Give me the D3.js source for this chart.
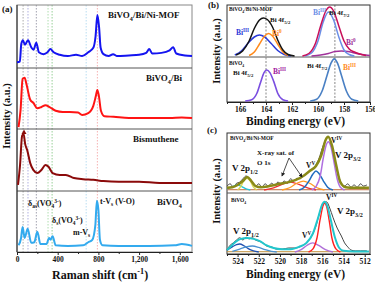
<!DOCTYPE html>
<html>
<head>
<style>
  body { margin: 0; background: #fff; }
  svg { width: 375px; height: 283px; display: block; }
  text { font-family: "Liberation Serif", "DejaVu Serif", serif; }
  .frame { fill: none; stroke: #333; stroke-width: 1px; }
  .divider { stroke: #555; stroke-width: 1px; }
  .axis text { font-family: "Liberation Serif", serif; font-weight: bold; font-size: 7.5px; fill: #111; }
  .axis path, .axis line { stroke: #222; stroke-width: 1px; }
  .marker { stroke-width: 0.8px; stroke-dasharray: 1.5 1.5; }
  .guide { stroke: #888; stroke-width: 1px; stroke-dasharray: 2 1.5; }
</style>
<script src="https://cdn.jsdelivr.net/npm/d3@7"></script>
</head>
<body>
<svg></svg>
<script>
// ---- panel (a): Raman spectra, [shift cm-1, intensity a.u.]
var ramanTicks = [0, 400, 800, 1200, 1600];
var ramanMinor = [200, 600, 1000, 1400];
var ramanLines = [60, 108, 190, 305, 345, 680, 790];
var ramanLineColors = ["#999", "#9a9ad8", "#8a8a9a", "#9bd49b", "#7cc47c", "#a8d4ee", "#f4a0a0"];

var ramanMof = [[0,9],[28,10],[42,38],[58,44],[78,37],[108,44],[140,33],[162,29],[190,40],[215,25],[260,22],[300,25],[328,30],[360,25],[420,21],[500,19],[580,21],[640,19],[700,25],[750,32],[772,50],[790,84],[806,66],[822,32],[850,22],[900,19],[945,22],[980,19],[1100,20],[1200,21],[1270,24],[1300,30],[1330,23],[1420,24],[1500,28],[1535,33],[1565,23],[1650,20],[1720,19]];
var ramanBi = [[15,3],[35,31],[55,82],[75,84],[95,72],[130,48],[160,43],[200,34],[240,36],[280,39],[320,36],[380,30],[450,28],[520,28],[600,27],[640,23],[700,26],[750,38],[775,54],[790,64],[805,54],[825,30],[860,21],[950,20],[1100,18],[1300,18],[1500,18],[1620,19],[1720,18]];
var ramanBismuthene = [[10,10],[30,42],[50,89],[65,92],[80,76],[100,66],[130,45],[160,34],[200,29],[240,34],[280,42],[310,39],[350,29],[420,26],[480,26],[560,21],[650,19],[750,18],[850,16],[1000,15],[1200,15],[1400,13],[1720,13]];
var ramanBivo4 = [[15,11],[40,23],[55,41],[75,23],[105,38],[140,15],[170,16],[200,33],[230,13],[290,13],[315,23],[330,20],[350,26],[380,11],[500,10],[650,11],[700,16],[740,20],[770,44],[785,84],[800,69],[815,20],[840,11],[1000,10],[1300,10],[1550,11],[1620,13],[1720,10]];

// ---- panel (b): Bi 4f XPS, [binding energy eV, intensity]
var biTicks = [166, 164, 162, 160, 158, 156];
var biMinor = [167, 165, 163, 161, 159, 157];
var biGuides = [164.0, 158.7];
var biMofEnvL = [[166.3,2],[165.8,10],[165.3,30],[164.9,55],[164.5,72],[164.2,76],[163.9,73],[163.5,58],[163.1,32],[162.7,12],[162.3,3],[161.8,0]];
var biMofIIIL = [[166.4,2],[165.9,10],[165.4,25],[164.9,38],[164.5,42],[164.1,38],[163.6,25],[163.1,11],[162.6,3],[162.1,0]];
var biMof0L = [[165.3,1],[164.9,8],[164.5,24],[164.1,40],[163.8,45],[163.5,40],[163.1,24],[162.7,8],[162.3,1]];
var biMofEnvR = [[161.2,0],[160.7,5],[160.2,25],[159.8,60],[159.4,90],[159.1,98],[158.8,90],[158.4,60],[158.0,30],[157.6,14],[157.2,8],[156.8,4],[156.3,1]];
var biMofIIIR = [[161.0,0],[160.5,6],[160.0,30],[159.6,68],[159.2,88],[158.8,72],[158.4,38],[158.0,12],[157.6,3],[157.2,0]];
var biMof0R = [[160.5,0],[159.8,2],[159.2,5],[158.7,9],[158.2,10],[157.7,9],[157.2,6],[156.6,3],[156.0,1]];
var biBvoL = [[165.6,0],[165.1,3],[164.7,18],[164.4,45],[164.15,66],[163.95,72],[163.7,66],[163.4,45],[163.1,18],[162.7,3],[162.3,0]];
var biBvoR = [[160.6,0],[160.1,4],[159.7,22],[159.3,60],[159.0,88],[158.75,98],[158.5,88],[158.2,60],[157.8,22],[157.4,4],[156.9,0]];

// ---- panel (c): V 2p XPS, [binding energy eV, intensity]
var vTicks = [524, 522, 520, 518, 516, 514, 512];
var vMinor = [525, 523, 521, 519, 517, 515, 513];
var vMofRaw = [[525,7],[524.7,11],[524.4,5],[524.1,12],[523.8,14],[523.5,20],[523.2,25],[522.9,20],[522.6,12],[522.3,7],[522.0,11],[521.7,5],[521.4,11],[521.1,7],[520.8,12],[520.5,9],[520.2,14],[519.9,11],[519.6,16],[519.3,12],[519.0,20],[518.7,16],[518.4,21],[518.1,20],[517.8,25],[517.5,29],[517.2,34],[516.9,39],[516.6,45],[516.3,57],[516.0,75],[515.7,89],[515.4,95],[515.1,79],[514.8,50],[514.5,27],[514.2,12],[513.9,7],[513.6,11],[513.3,5],[513.0,9],[512.7,5],[512.4,11],[512.1,7],[511.8,9]];
var vMofEnv = [[525,4],[524.5,5],[524,9],[523.5,16],[523.1,23],[522.7,16],[522.3,7],[521.8,5],[521,7],[520,11],[519.2,14],[518.5,18],[517.8,25],[517.2,34],[516.6,43],[516.1,62],[515.7,89],[515.45,95],[515.1,80],[514.7,45],[514.3,14],[513.8,5],[513,4],[512,4],[511.6,4]];
var vMofIV = [[517.0,0],[516.6,6],[516.2,25],[515.9,58],[515.6,82],[515.45,86],[515.2,78],[514.9,50],[514.6,20],[514.3,5],[513.9,0]];
var vMofV = [[518.2,0],[517.7,5],[517.3,15],[516.9,28],[516.6,34],[516.3,29],[515.9,16],[515.5,5],[515.0,0]];
var vMofSatA = [[521.5,0],[520.6,4],[519.8,10],[519.0,14],[518.2,10],[517.4,4],[516.6,0]];
var vMofSatB = [[519.8,0],[519.1,4],[518.4,12],[517.8,16],[517.2,12],[516.5,4],[515.8,0]];
var vMofP12a = [[525,2],[524.5,6],[524.0,9],[523.6,6],[523.2,2],[522.8,0]];
var vMofP12b = [[524.0,0],[523.7,6],[523.4,17],[523.1,21],[522.8,16],[522.5,5],[522.2,0]];
var vBvoRaw = [[525,3.5],[524.7,12],[524.4,16],[524.1,21],[523.8,25],[523.5,21],[523.2,26],[522.9,23],[522.6,25],[522.3,21],[522.0,19],[521.6,16],[521.2,10],[520.8,9],[520.3,5],[519.8,5],[519.2,7],[518.6,7],[518.0,10],[517.5,16],[517.0,28],[516.6,46],[516.2,72],[515.9,86],[515.6,88],[515.3,77],[515.0,61],[514.6,42],[514.2,28],[513.9,16],[513.6,9],[513.3,3.5],[512.9,2],[512.4,2],[511.8,2]];
var vBvoEnv = [[525,3.5],[524.6,10.5],[524.2,17.5],[523.7,23],[523.1,24.5],[522.5,23],[521.9,19],[521.3,12],[520.6,7],[519.8,5],[519.0,5],[518.2,9],[517.5,16],[516.9,32],[516.4,60],[516.0,84],[515.8,88],[515.5,79],[515.2,56],[514.8,25],[514.4,7],[514.0,2],[513,1],[512,1],[511.6,1]];
var vBvoIV = [[517.3,0],[516.9,5],[516.5,25],[516.2,58],[515.95,80],[515.8,86],[515.6,80],[515.35,55],[515.1,25],[514.7,5],[514.3,0]];
var vBvoV = [[518.6,0],[518.0,4],[517.5,11],[516.9,16],[516.3,11],[515.7,4],[515.0,0]];
var vBvoP12a = [[525.0,3],[524.5,9],[524.1,13],[523.8,14],[523.4,11],[523.0,6],[522.5,2],[522.0,0]];
var vBvoP12b = [[524.5,1],[523.8,5],[523.2,9],[522.6,10.5],[522.0,8],[521.4,4],[520.8,1],[520.3,0]];
var vBase = [[525,0.5],[511.6,0.5]];

var svg = d3.select("svg");

function rich(x, y, parts, size, color, weight)
{
    var t = svg.append("text")
        .attr("x", x).attr("y", y)
        .attr("font-size", size + "px")
        .attr("font-weight", weight || "bold")
        .attr("fill", color || "#111");
    var shift = 0;
    parts.forEach(function(p)
    {
        var target = p[1] == "sub" ? size * 0.3 : (p[1] == "sup" ? -size * 0.42 : 0);
        t.append("tspan")
            .attr("dy", target - shift)
            .attr("font-size", (p[1] ? size * 0.68 : size) + "px")
            .text(p[0]);
        shift = target;
    });
    return t;
}

function drawCurve(data, x, y, color, width)
{
    var line = d3.line()
        .x(function(d) { return x(d[0]); })
        .y(function(d) { return y(d[1]); })
        .curve(d3.curveMonotoneX);
    svg.append("path")
        .attr("d", line(data))
        .attr("fill", "none")
        .attr("stroke", color)
        .attr("stroke-width", width)
        .attr("stroke-linejoin", "round");
}

function drawAxis(x, yPos, major, minor)
{
    svg.append("g").attr("class", "axis")
        .attr("transform", "translate(0," + yPos + ")")
        .call(d3.axisBottom(x).tickValues(minor).tickFormat("").tickSize(2).tickSizeOuter(0));
    svg.append("g").attr("class", "axis")
        .attr("transform", "translate(0," + yPos + ")")
        .call(d3.axisBottom(x).tickValues(major).tickSize(3).tickSizeOuter(0).tickPadding(1.5));
}

function yTitle(cx, cy, size)
{
    svg.append("text")
        .attr("transform", "translate(" + cx + "," + cy + ") rotate(-90)")
        .attr("text-anchor", "middle")
        .attr("font-size", size + "px")
        .attr("font-weight", "bold")
        .attr("fill", "#111")
        .text("Intensity (a.u.)");
}

// ================= panel (a)
var xa = d3.scaleLinear().domain([0, 1720]).range([17, 192]);
var aRows = [[5, 68], [68, 129], [129, 191], [191, 252]];
var ya = aRows.map(function(r) { return d3.scaleLinear().domain([0, 100]).range([r[1], r[0]]); });

ramanLines.forEach(function(v, i)
{
    svg.append("line").attr("class", "marker")
        .attr("x1", xa(v)).attr("x2", xa(v)).attr("y1", 5).attr("y2", 252)
        .attr("stroke", ramanLineColors[i]);
});

svg.append("rect").attr("x", 17).attr("y", 5).attr("width", 175).attr("height", 247)
    .attr("fill", "none").attr("stroke", "#888");
[68, 129, 191].forEach(function(d)
{
    svg.append("line").attr("class", "divider").attr("x1", 17).attr("x2", 192).attr("y1", d).attr("y2", d);
});
svg.append("line").attr("x1", 17).attr("x2", 17).attr("y1", 5).attr("y2", 252).attr("stroke", "#222");

drawCurve(ramanMof, xa, ya[0], "#1414f0", 2);
drawCurve(ramanBi, xa, ya[1], "#ff1414", 2);
drawCurve(ramanBismuthene, xa, ya[2], "#8b0a0a", 2);
drawCurve(ramanBivo4, xa, ya[3], "#33aaee", 2);
drawAxis(xa, 252, ramanTicks, ramanMinor);

svg.append("path").attr("d", "M24,129.5 L21.5,134 L26.5,134 Z").attr("fill", "#8b0a0a");

rich(2, 12, [["(a)", ""]], 9);
rich(108, 18, [["BiVO", ""], ["4", "sub"], ["/Bi/Ni-MOF", ""]], 9);
rich(146, 81, [["BiVO", ""], ["4", "sub"], ["/Bi", ""]], 9);
rich(133, 142, [["Bismuthene", ""]], 9);
rich(157, 205, [["BiVO", ""], ["4", "sub"]], 9);
rich(28, 206, [["δ", ""], ["as", "sub"], ["(VO", ""], ["4", "sub"], ["3-", "sup"], [")", ""]], 8);
rich(52, 223, [["δ", ""], ["s", "sub"], ["(VO", ""], ["4", "sub"], ["3-", "sup"], [")", ""]], 8);
rich(73, 235, [["m-V", ""], ["s", "sub"]], 8);
rich(100, 204, [["t-V", ""], ["s", "sub"], [" (V-O)", ""]], 8);
rich(52, 279, [["Raman shift (cm", ""], ["-1", "sup"], [")", ""]], 12);
yTitle(10, 116, 10.5);

// ================= panel (b)
var xb = d3.scaleLinear().domain([167, 156]).range([227, 370]);
var ybTop = d3.scaleLinear().domain([0, 100]).range([56, 6]);
var ybBot = d3.scaleLinear().domain([0, 100]).range([101, 58]);

biGuides.forEach(function(v)
{
    svg.append("line").attr("class", "guide")
        .attr("x1", xb(v)).attr("x2", xb(v)).attr("y1", 5).attr("y2", 102);
});
svg.append("rect").attr("class", "frame").attr("x", 227).attr("y", 5).attr("width", 143).attr("height", 97);
svg.append("line").attr("class", "divider").attr("x1", 227).attr("x2", 370).attr("y1", 57).attr("y2", 57);

drawCurve(biMofIIIL, xb, ybTop, "#2a3ad8", 1.5);
drawCurve(biMof0L, xb, ybTop, "#ff8a1c", 1.5);
drawCurve(biMofEnvL, xb, ybTop, "#141414", 1.5);
drawCurve(biMof0R, xb, ybTop, "#a0329a", 1.5);
drawCurve(biMofIIIR, xb, ybTop, "#6b8ee6", 1.5);
drawCurve(biMofEnvR, xb, ybTop, "#c8105a", 1.5);
drawCurve(biBvoL, xb, ybBot, "#7a4ee0", 1.6);
drawCurve(biBvoR, xb, ybBot, "#4a80c4", 1.6);
drawAxis(xb, 102, biTicks, biMinor);

rich(208, 8, [["(b)", ""]], 9);
rich(229, 11, [["BiVO", ""], ["4", "sub"], ["/Bi/Ni-MOF", ""]], 5.5);
rich(236, 35, [["Bi", ""], ["III", "sup"]], 7.5, "#2a3ad8");
rich(270, 22, [["Bi 4f", ""], ["5/2", "sub"]], 7);
rich(272, 36, [["Bi", ""], ["0", "sup"]], 7.5, "#ff8a1c");
rich(313, 15, [["Bi", ""], ["III", "sup"]], 7.5, "#6b8ee6");
rich(329, 15, [["Bi 4f", ""], ["7/2", "sub"]], 7);
rich(346, 45, [["Bi", ""], ["0", "sup"]], 7.5, "#a0329a");
rich(229, 65, [["BiVO", ""], ["4", "sub"]], 5.5);
rich(233, 75, [["Bi 4f", ""], ["5/2", "sub"]], 7);
rich(273, 74, [["Bi", ""], ["III", "sup"]], 7.5, "#a020a0");
rich(307, 68, [["Bi 4f", ""], ["7/2", "sub"]], 7);
rich(343, 70, [["Bi", ""], ["III", "sup"]], 7.5, "#ff8a1c");
rich(246, 125, [["Binding energy (eV)", ""]], 11.5);
yTitle(220, 51, 10.5);

// ================= panel (c)
var xc = d3.scaleLinear().domain([525, 511.5]).range([227, 370]);
var ycTop = d3.scaleLinear().domain([0, 100]).range([190, 134]);
var ycBot = d3.scaleLinear().domain([0, 100]).range([252, 195]);

svg.append("rect").attr("class", "frame").attr("x", 227).attr("y", 133).attr("width", 143).attr("height", 121);
svg.append("line").attr("class", "divider").attr("x1", 227).attr("x2", 370).attr("y1", 193).attr("y2", 193);

drawCurve(vBase, xc, ycTop, "#c06a3a", 1);
drawCurve(vMofRaw, xc, ycTop, "#444", 1);
drawCurve(vMofP12a, xc, ycTop, "#22c4dd", 1.3);
drawCurve(vMofP12b, xc, ycTop, "#d8d850", 1.3);
drawCurve(vMofSatA, xc, ycTop, "#ee3030", 1.3);
drawCurve(vMofSatB, xc, ycTop, "#ff9a22", 1.3);
drawCurve(vMofV, xc, ycTop, "#1f6cc0", 1.5);
drawCurve(vMofIV, xc, ycTop, "#b070e0", 1.5);
drawCurve(vMofEnv, xc, ycTop, "#8a8a18", 2.5);

drawCurve(vBase, xc, ycBot, "#c0903a", 1);
drawCurve(vBvoRaw, xc, ycBot, "#444", 1);
drawCurve(vBvoP12a, xc, ycBot, "#2050b0", 1.3);
drawCurve(vBvoP12b, xc, ycBot, "#4a90d0", 1.3);
drawCurve(vBvoV, xc, ycBot, "#b070d8", 1.4);
drawCurve(vBvoIV, xc, ycBot, "#ff2020", 1.4);
drawCurve(vBvoEnv, xc, ycBot, "#22c6cc", 2);
drawAxis(xc, 254, vTicks, vMinor);

svg.append("defs").append("marker").attr("id", "arr")
    .attr("viewBox", "0 0 6 6").attr("refX", 5).attr("refY", 3)
    .attr("markerWidth", 5).attr("markerHeight", 5).attr("orient", "auto")
    .append("path").attr("d", "M0,0 L6,3 L0,6 Z").attr("fill", "#222");
[[282, 176], [302, 177]].forEach(function(p)
{
    svg.append("line").attr("x1", 289).attr("y1", 158).attr("x2", p[0]).attr("y2", p[1])
        .attr("stroke", "#222").attr("stroke-width", 0.8).attr("marker-end", "url(#arr)");
});

rich(207, 133, [["(c)", ""]], 9);
rich(230, 140, [["BiVO", ""], ["4", "sub"], ["/Bi/Ni-MOF", ""]], 5.5);
rich(331, 143, [["V", ""], ["IV", "sup"]], 7.5);
rich(335, 158, [["V 2p", ""], ["3/2", "sub"]], 9);
rich(306, 168, [["V", ""], ["V", "sup"]], 7.5);
rich(257, 155, [["X-ray sat. of", ""]], 7);
rich(257, 165, [["O 1s", ""]], 7);
rich(232, 171, [["V 2p", ""], ["1/2", "sub"]], 9);
rich(231, 202, [["BiVO", ""], ["4", "sub"]], 5.5);
rich(326, 200, [["V", ""], ["IV", "sup"]], 7.5);
rich(337, 214, [["V 2p", ""], ["3/2", "sub"]], 9);
rich(302, 238, [["V", ""], ["V", "sup"]], 7.5);
rich(233, 234, [["V 2p", ""], ["1/2", "sub"]], 9);
rich(246, 278, [["Binding energy (eV)", ""]], 11.5);
yTitle(220, 191, 10.5);
</script>
</body>
</html>
